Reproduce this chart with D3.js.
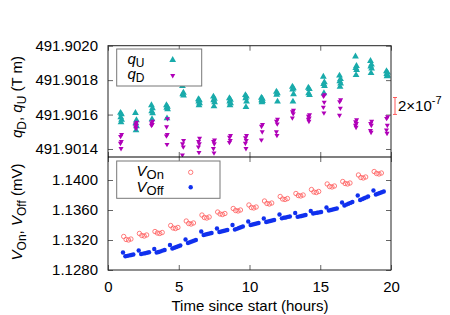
<!DOCTYPE html>
<html>
<head>
<meta charset="utf-8">
<script src="https://cdn.jsdelivr.net/npm/d3@7"></script>
<style>
  body { margin: 0; background: #fff; }
  text { font-family: "Liberation Sans", Arial, sans-serif; fill: #000; }
</style>
</head>
<body>
<div class="chart"></div>
<script>
// group times (hours) for q values, and values per group
const qTimes = [0.92, 1.98, 3.11, 4.17, 5.30, 6.43, 7.49, 8.62, 9.75, 10.88, 11.94, 13.07, 14.20, 15.26, 16.40, 17.53, 18.59, 19.72];
const qJitter = [-0.04, 0.03, -0.02, 0.04, 0.0];
const qU = [
  [491.901610, 491.901602, 491.901584, 491.901570, 491.901555],
  [491.901609, 491.901567, 491.901549, 491.901532, 491.901508],
  [491.901654, 491.901637, 491.901619, 491.901608, 491.901573],
  [491.901654, 491.901645, 491.901640, 491.901631, 491.901578],
  [491.901765, 491.901727, 491.901718, 491.901710],
  [491.901689, 491.901683, 491.901675, 491.901666, 491.901654],
  [491.901704, 491.901692, 491.901683, 491.901672, 491.901648],
  [491.901695, 491.901686, 491.901675, 491.901666, 491.901654],
  [491.901713, 491.901704, 491.901695, 491.901675, 491.901643],
  [491.901698, 491.901692, 491.901683, 491.901678, 491.901672],
  [491.901733, 491.901724, 491.901715, 491.901675],
  [491.901762, 491.901753, 491.901745, 491.901718, 491.901675],
  [491.901756, 491.901748, 491.901724, 491.901713],
  [491.901820, 491.901788, 491.901777, 491.901765, 491.901724],
  [491.901826, 491.901806, 491.901794, 491.901780, 491.901762],
  [491.901937, 491.901882, 491.901870, 491.901858, 491.901829],
  [491.901911, 491.901890, 491.901879, 491.901867, 491.901841],
  [491.901852, 491.901844, 491.901835, 491.901826, 491.901823]
];
const qD = [
  [491.901485, 491.901473, 491.901444, 491.901433, 491.901403],
  [491.901555, 491.901546, 491.901538, 491.901529, 491.901520],
  [491.901561, 491.901552, 491.901543, 491.901538],
  [491.901576, 491.901529, 491.901485, 491.901476, 491.901427],
  [491.901450, 491.901430, 491.901412, 491.901366],
  [491.901462, 491.901444, 491.901430, 491.901412, 491.901380],
  [491.901453, 491.901444, 491.901430, 491.901403, 491.901377],
  [491.901479, 491.901468, 491.901450, 491.901438],
  [491.901479, 491.901465, 491.901450, 491.901433, 491.901403],
  [491.901543, 491.901532, 491.901500, 491.901453],
  [491.901573, 491.901561, 491.901546, 491.901500, 491.901479],
  [491.901625, 491.901616, 491.901605, 491.901581],
  [491.901599, 491.901590, 491.901581, 491.901573, 491.901561],
  [491.901715, 491.901707, 491.901672, 491.901643, 491.901610],
  [491.901686, 491.901675, 491.901637, 491.901596],
  [491.901570, 491.901558, 491.901549, 491.901538, 491.901526],
  [491.901561, 491.901549, 491.901538, 491.901508, 491.901497],
  [491.901587, 491.901578, 491.901538, 491.901511, 491.901491]
];

// voltage groups: start time (hours) and sample offsets within a group
const vTimes = [1.06, 2.17, 3.27, 4.38, 5.48, 6.59, 7.70, 8.80, 9.91, 11.01, 12.12, 13.23, 14.33, 15.44, 16.54, 17.65, 18.76];
const onOffsets = [0.05, 0.22, 0.39, 0.56];
const offOffsets = [0, 0.17, 0.31, 0.45, 0.59, 0.73];
const vOn = [
  [1.13247, 1.13207, 1.13200, 1.13213],
  [1.13287, 1.13260, 1.13253, 1.13267],
  [1.13313, 1.13293, 1.13287, 1.13300],
  [1.13393, 1.13360, 1.13353, 1.13367],
  [1.13453, 1.13420, 1.13413, 1.13427],
  [1.13533, 1.13500, 1.13493, 1.13507],
  [1.13573, 1.13547, 1.13540, 1.13553],
  [1.13620, 1.13593, 1.13587, 1.13600],
  [1.13667, 1.13633, 1.13627, 1.13640],
  [1.13720, 1.13687, 1.13680, 1.13693],
  [1.13780, 1.13747, 1.13740, 1.13753],
  [1.13820, 1.13793, 1.13787, 1.13800],
  [1.13873, 1.13840, 1.13833, 1.13847],
  [1.13947, 1.13913, 1.13907, 1.13920],
  [1.13980, 1.13953, 1.13947, 1.13960],
  [1.14067, 1.14033, 1.14027, 1.14040],
  [1.14113, 1.14087, 1.14080, 1.14093]
];
const vOff = [
  [1.13033, 1.12984, 1.12989, 1.12995, 1.13001, 1.13007],
  [1.13060, 1.13013, 1.13019, 1.13024, 1.13031, 1.13036],
  [1.13080, 1.13033, 1.13041, 1.13049, 1.13059, 1.13067],
  [1.13133, 1.13087, 1.13096, 1.13107, 1.13116, 1.13127],
  [1.13207, 1.13160, 1.13171, 1.13180, 1.13191, 1.13200],
  [1.13313, 1.13267, 1.13273, 1.13280, 1.13287, 1.13293],
  [1.13353, 1.13307, 1.13313, 1.13320, 1.13327, 1.13333],
  [1.13400, 1.13340, 1.13349, 1.13360, 1.13371, 1.13380],
  [1.13447, 1.13400, 1.13407, 1.13413, 1.13420, 1.13427],
  [1.13487, 1.13440, 1.13447, 1.13453, 1.13460, 1.13467],
  [1.13540, 1.13489, 1.13496, 1.13501, 1.13508, 1.13513],
  [1.13560, 1.13509, 1.13515, 1.13521, 1.13527, 1.13533],
  [1.13587, 1.13553, 1.13559, 1.13563, 1.13568, 1.13573],
  [1.13633, 1.13593, 1.13600, 1.13607, 1.13613, 1.13620],
  [1.13700, 1.13660, 1.13672, 1.13684, 1.13695, 1.13707],
  [1.13793, 1.13733, 1.13745, 1.13757, 1.13768, 1.13780],
  [1.13860, 1.13807, 1.13816, 1.13827, 1.13837, 1.13847]
];

const xTicks = [0, 5, 10, 15, 20];
const qTicks = [491.9014, 491.9016, 491.9018, 491.9020];
const vTicks = [1.1280, 1.1320, 1.1360, 1.1400];
const barCenter = 491.90165, barFraction = 2e-7;

const W = 450, H = 315;
const left = 108, right = 391;
const topY0 = 45.7, topY1 = 157, botY0 = 157, botY1 = 270;

let svg = d3.select(".chart").append("svg")
  .attr("width", W).attr("height", H);

let x = d3.scaleLinear().domain([0, 20]).range([left, right]);
let yq = d3.scaleLinear().domain([491.9013535, 491.9020]).range([topY1, topY0]);
let yv = d3.scaleLinear().domain([1.1280, 1.143067]).range([botY1, botY0]);

const tickCol = "#666";

function panel(y, ticks, fmt, y0, y1) {
  let g = svg.append("g");
  let ax = g.append("g").attr("transform", "translate(" + left + ",0)")
    .call(d3.axisLeft(y).tickValues(ticks).tickSize(-5).tickPadding(10).tickFormat(fmt));
  let ax2 = g.append("g").attr("transform", "translate(" + right + ",0)")
    .call(d3.axisRight(y).tickValues(ticks).tickSize(-5).tickFormat(""));
  let ax3 = g.append("g").attr("transform", "translate(0," + y0 + ")")
    .call(d3.axisTop(x).tickValues(xTicks).tickSize(-5).tickFormat(""));
  let ax4 = g.append("g").attr("transform", "translate(0," + y1 + ")")
    .call(d3.axisBottom(x).tickValues(xTicks).tickSize(-5).tickFormat(""));
  [ax, ax2, ax3, ax4].forEach(a => {
    a.select(".domain").remove();
    a.selectAll("line").attr("stroke", tickCol);
    a.selectAll("text").style("font-size", "15px").attr("fill", "#000");
  });
  return g;
}

panel(yq, qTicks, d3.format(".4f"), topY0, topY1);
panel(yv, vTicks, d3.format(".4f"), botY0, botY1);

// x tick labels
svg.append("g").attr("transform", "translate(0," + botY1 + ")")
  .call(d3.axisBottom(x).tickValues(xTicks).tickSize(0).tickPadding(11))
  .call(a => a.select(".domain").remove())
  .selectAll("text").style("font-size", "15px").attr("fill", "#000");

// clip
svg.append("clipPath").attr("id", "clipTop").append("rect")
  .attr("x", left).attr("y", topY0).attr("width", right - left).attr("height", topY1 - topY0);
svg.append("clipPath").attr("id", "clipBot").append("rect")
  .attr("x", left).attr("y", botY0).attr("width", right - left).attr("height", botY1 - botY0);

let qUPts = qU.flatMap((g, i) => g.map((v, j) => ({ t: qTimes[i] + qJitter[j], v: v })));
let qDPts = qD.flatMap((g, i) => g.map((v, j) => ({ t: qTimes[i] - qJitter[j], v: v })));
let onPts = vOn.flatMap((g, i) => g.map((v, j) => ({ t: vTimes[i] + onOffsets[j], v: v })));
let offPts = vOff.flatMap((g, i) => g.map((v, j) => ({ t: vTimes[i] + offOffsets[j], v: v })));

const cU = "#19abab", cD = "#b000b8", cOn = "#ff5a5a", cOff = "#1030ee";
let triUp = d3.symbol().type(d3.symbolTriangle).size(20);
let triDn = d3.symbol().type(d3.symbolTriangle).size(11);

let gTop = svg.append("g").attr("clip-path", "url(#clipTop)");
gTop.selectAll(".qu").data(qUPts).join("path").attr("class", "qu")
  .attr("d", triUp).attr("fill", cU)
  .attr("transform", d => "translate(" + x(d.t) + "," + yq(d.v) + ")");
gTop.selectAll(".qd").data(qDPts).join("path").attr("class", "qd")
  .attr("d", triDn).attr("fill", cD)
  .attr("transform", d => "translate(" + x(d.t) + "," + yq(d.v) + ") rotate(180)");

let gBot = svg.append("g").attr("clip-path", "url(#clipBot)");
gBot.selectAll(".on").data(onPts).join("circle").attr("class", "on")
  .attr("cx", d => x(d.t)).attr("cy", d => yv(d.v)).attr("r", 2.2)
  .attr("fill", "none").attr("stroke", cOn).attr("stroke-width", 0.8);
gBot.selectAll(".off").data(offPts).join("circle").attr("class", "off")
  .attr("cx", d => x(d.t)).attr("cy", d => yv(d.v)).attr("r", 2.2)
  .attr("fill", cOff);

// borders
svg.append("rect").attr("x", left).attr("y", topY0).attr("width", right - left).attr("height", botY1 - topY0)
  .attr("fill", "none").attr("stroke", "#222").attr("stroke-width", 1);
svg.append("line").attr("x1", left).attr("x2", right).attr("y1", topY1).attr("y2", topY1)
  .attr("stroke", "#000").attr("stroke-width", 1.2);

// legends
function legendBox(x0, y0, w, h) {
  svg.append("rect").attr("x", x0).attr("y", y0).attr("width", w).attr("height", h)
    .attr("fill", "#fff").attr("stroke", "#777").attr("stroke-width", 1);
}
function subLabel(g, tx, ty, main, sub, size, subSize) {
  let t = g.append("text").attr("x", tx).attr("y", ty).style("font-size", size + "px");
  t.append("tspan").text(main).style("font-style", "italic");
  t.append("tspan").text(sub).attr("dy", 3).style("font-size", subSize + "px");
  return t;
}
legendBox(116.7, 49, 85, 37);
subLabel(svg, 127.5, 63.5, "q", "U", 15, 12);
subLabel(svg, 127.5, 79, "q", "D", 15, 12);
svg.append("path").attr("d", triUp).attr("fill", cU).attr("transform", "translate(172.7,60)");
svg.append("path").attr("d", triDn).attr("fill", cD).attr("transform", "translate(172.7,75.5) rotate(180)");

legendBox(116.7, 161, 103.3, 37.3);
subLabel(svg, 136.5, 175.5, "V", "On", 15, 13);
subLabel(svg, 136.5, 191.5, "V", "Off", 15, 13);
svg.append("circle").attr("cx", 190.7).attr("cy", 172.3).attr("r", 2.2)
  .attr("fill", "none").attr("stroke", cOn).attr("stroke-width", 0.8);
svg.append("circle").attr("cx", 190.7).attr("cy", 187.3).attr("r", 2.2).attr("fill", cOff);

// relative scale bar
let b0 = yq(barCenter * (1 - barFraction / 2)), b1 = yq(barCenter * (1 + barFraction / 2));
let bx = 395;
svg.append("path")
  .attr("d", "M" + (bx - 2) + "," + b0 + "H" + (bx + 2) + "M" + bx + "," + b0 + "V" + b1 + "M" + (bx - 2) + "," + b1 + "H" + (bx + 2))
  .attr("stroke", cOn).attr("stroke-width", 1).attr("fill", "none");
let st = svg.append("text").attr("x", 398).attr("y", 110.5).style("font-size", "15px");
st.append("tspan").text("2×10");
st.append("tspan").text("-7").attr("dy", -7).style("font-size", "11px");

// axis titles
let yl1 = svg.append("text").attr("transform", "translate(22,97) rotate(-90)")
  .attr("text-anchor", "middle").style("font-size", "15px");
yl1.append("tspan").text("q").style("font-style", "italic");
yl1.append("tspan").text("D").attr("dy", 4).style("font-size", "12px");
yl1.append("tspan").text(", ").attr("dy", -4);
yl1.append("tspan").text("q").style("font-style", "italic");
yl1.append("tspan").text("U").attr("dy", 4).style("font-size", "12px");
yl1.append("tspan").text(" (T m)").attr("dy", -4);

let yl2 = svg.append("text").attr("transform", "translate(22,212) rotate(-90)")
  .attr("text-anchor", "middle").style("font-size", "15px");
yl2.append("tspan").text("V").style("font-style", "italic");
yl2.append("tspan").text("On").attr("dy", 4).style("font-size", "12px");
yl2.append("tspan").text(",  ").attr("dy", -4);
yl2.append("tspan").text("V").style("font-style", "italic");
yl2.append("tspan").text("Off").attr("dy", 4).style("font-size", "12px");
yl2.append("tspan").text(" (mV)").attr("dy", -4);

svg.append("text").attr("x", 250).attr("y", 311).attr("text-anchor", "middle")
  .style("font-size", "15px").text("Time since start (hours)");
</script>
</body>
</html>
